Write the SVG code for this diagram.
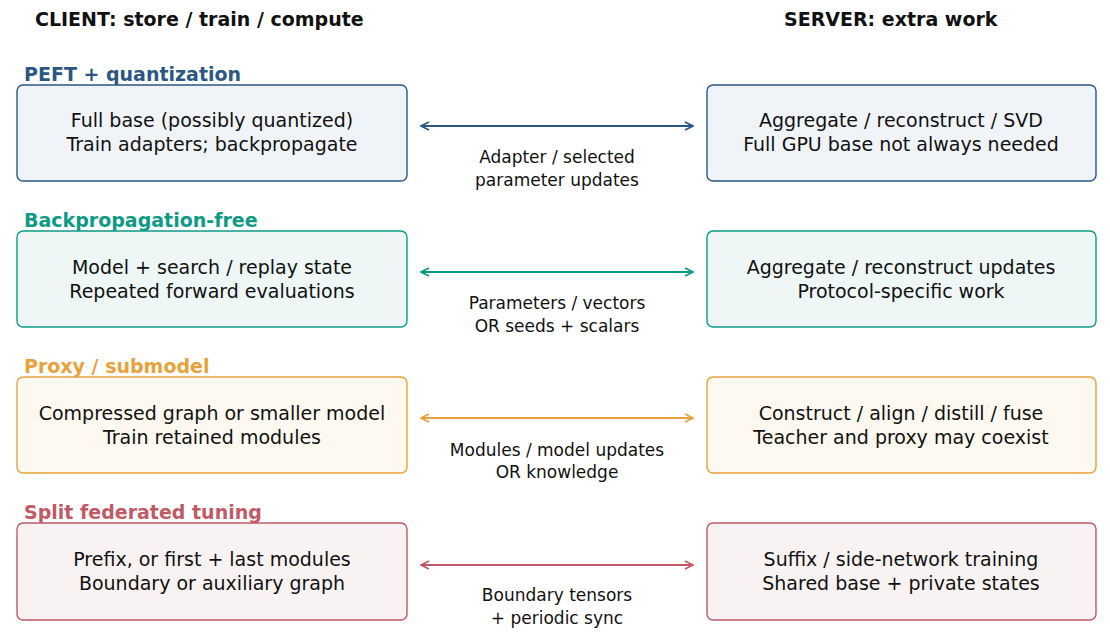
<svg xmlns="http://www.w3.org/2000/svg" width="1110" height="639" viewBox="0 0 1110 639">
<defs>
<style>
text{font-family:"DejaVu Sans",sans-serif;fill:#111}
.h{font-size:19px;font-weight:bold}
.t{font-size:19px;text-anchor:middle}
.l{font-size:17px;text-anchor:middle}
.box{stroke-width:1.4}
.c{fill:none;stroke-width:2}
</style>
<marker id="mb" viewBox="0 0 10 10" refX="9" refY="5" markerWidth="10" markerHeight="10" markerUnits="userSpaceOnUse" orient="auto-start-reverse"><path d="M1,1 L9,5 L1,9" fill="none" stroke="#2a5783" stroke-width="1.8"/></marker>
<marker id="mt" viewBox="0 0 10 10" refX="9" refY="5" markerWidth="10" markerHeight="10" markerUnits="userSpaceOnUse" orient="auto-start-reverse"><path d="M1,1 L9,5 L1,9" fill="none" stroke="#0f9a86" stroke-width="1.8"/></marker>
<marker id="mo" viewBox="0 0 10 10" refX="9" refY="5" markerWidth="10" markerHeight="10" markerUnits="userSpaceOnUse" orient="auto-start-reverse"><path d="M1,1 L9,5 L1,9" fill="none" stroke="#e8a23c" stroke-width="1.8"/></marker>
<marker id="mr" viewBox="0 0 10 10" refX="9" refY="5" markerWidth="10" markerHeight="10" markerUnits="userSpaceOnUse" orient="auto-start-reverse"><path d="M1,1 L9,5 L1,9" fill="none" stroke="#bf5a66" stroke-width="1.8"/></marker>
</defs>
<rect width="1110" height="639" fill="#fff"/>
<text class="h" x="35" y="26">CLIENT: store / train / compute</text>
<text class="h" x="784" y="26">SERVER: extra work</text>

<g id="row1">
<text class="h" x="24" y="81" style="fill:#2a5783">PEFT + quantization</text>
<g id="c1"><rect class="box" x="17" y="85" width="390" height="96" rx="6" fill="#f0f4f8" stroke="#2a5783"/>
<text class="t" x="212" y="127">Full base (possibly quantized)</text><text class="t" x="212" y="151">Train adapters; backpropagate</text></g>
<g id="s1"><rect class="box" x="707" y="85" width="389" height="96" rx="6" fill="#f0f4f8" stroke="#2a5783"/>
<text class="t" x="901" y="127">Aggregate / reconstruct / SVD</text><text class="t" x="901" y="151">Full GPU base not always needed</text></g>
</g>
<g id="row2">
<text class="h" x="24" y="227" style="fill:#0f9a86">Backpropagation-free</text>
<g id="c2"><rect class="box" x="17" y="231" width="390" height="96" rx="6" fill="#eef7f5" stroke="#0f9a86"/>
<text class="t" x="212" y="274">Model + search / replay state</text><text class="t" x="212" y="298">Repeated forward evaluations</text></g>
<g id="s2"><rect class="box" x="707" y="231" width="389" height="96" rx="6" fill="#eef7f5" stroke="#0f9a86"/>
<text class="t" x="901" y="274">Aggregate / reconstruct updates</text><text class="t" x="901" y="298">Protocol-specific work</text></g>
</g>
<g id="row3">
<text class="h" x="24" y="373" style="fill:#e8a23c">Proxy / submodel</text>
<g id="c3"><rect class="box" x="17" y="377" width="390" height="96" rx="6" fill="#fdf8f0" stroke="#e8a23c"/>
<text class="t" x="212" y="420">Compressed graph or smaller model</text><text class="t" x="212" y="444">Train retained modules</text></g>
<g id="s3"><rect class="box" x="707" y="377" width="389" height="96" rx="6" fill="#fdf8f0" stroke="#e8a23c"/>
<text class="t" x="901" y="420">Construct / align / distill / fuse</text><text class="t" x="901" y="444">Teacher and proxy may coexist</text></g>
</g>
<g id="row4">
<text class="h" x="24" y="519" style="fill:#bf5a66">Split federated tuning</text>
<g id="c4"><rect class="box" x="17" y="523" width="390" height="97" rx="6" fill="#f9f2f2" stroke="#bf5a66"/>
<text class="t" x="212" y="566">Prefix, or first + last modules</text><text class="t" x="212" y="590">Boundary or auxiliary graph</text></g>
<g id="s4"><rect class="box" x="707" y="523" width="389" height="97" rx="6" fill="#f9f2f2" stroke="#bf5a66"/>
<text class="t" x="901" y="566">Suffix / side-network training</text><text class="t" x="901" y="590">Shared base + private states</text></g>
</g>
<g id="connectors">
<line class="c" x1="421" y1="126" x2="693" y2="126" stroke="#2a5783" marker-start="url(#mb)" marker-end="url(#mb)"/>
<text class="l" x="557" y="163">Adapter / selected</text><text class="l" x="557" y="186">parameter updates</text>
<line class="c" x1="421" y1="272" x2="693" y2="272" stroke="#0f9a86" marker-start="url(#mt)" marker-end="url(#mt)"/>
<text class="l" x="557" y="309">Parameters / vectors</text><text class="l" x="557" y="332">OR seeds + scalars</text>
<line class="c" x1="421" y1="418" x2="693" y2="418" stroke="#e8a23c" marker-start="url(#mo)" marker-end="url(#mo)"/>
<text class="l" x="557" y="456">Modules / model updates</text><text class="l" x="557" y="478">OR knowledge</text>
<line class="c" x1="421" y1="565" x2="693" y2="565" stroke="#bf5a66" marker-start="url(#mr)" marker-end="url(#mr)"/>
<text class="l" x="557" y="601">Boundary tensors</text><text class="l" x="557" y="624">+ periodic sync</text>
</g>
</svg>
